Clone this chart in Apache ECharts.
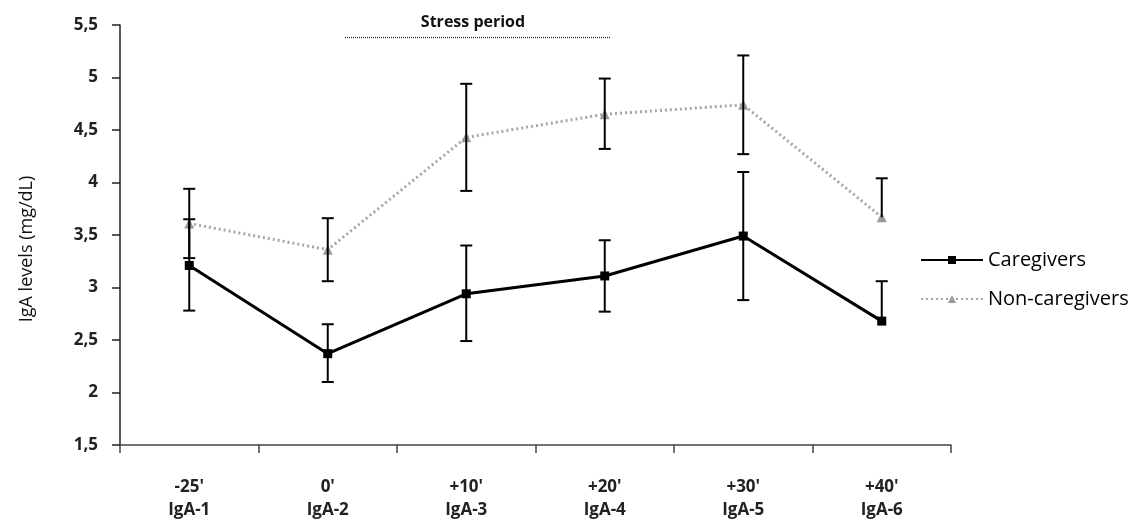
<!DOCTYPE html>
<html>
<head>
<meta charset="utf-8">
<script src="https://cdn.jsdelivr.net/npm/echarts@6/dist/echarts.min.js"></script>
<style>
html,body{margin:0;padding:0;background:#fff;}
#chart{width:1142px;height:522px;}
</style>
</head>
<body>
<div id="chart"></div>
<script>
// ---- data ----
var timeLabels = ["-25'", "0'", "+10'", "+20'", "+30'", "+40'"];
var sampleLabels = ["IgA-1", "IgA-2", "IgA-3", "IgA-4", "IgA-5", "IgA-6"];
var caregivers = [3.21, 2.37, 2.94, 3.11, 3.49, 2.68];
var caregiversErrUp = [0.44, 0.28, 0.46, 0.34, 0.61, 0.38];
var caregiversErrDown = [0.43, 0.27, 0.45, 0.34, 0.61, 0];
var nonCaregivers = [3.61, 3.36, 4.43, 4.65, 4.74, 3.67];
var nonCaregiversErrUp = [0.33, 0.30, 0.51, 0.34, 0.47, 0.37];
var nonCaregiversErrDown = [0.33, 0.30, 0.51, 0.33, 0.47, 0];
var yTicks = {min: 1.5, max: 5.5, interval: 0.5};

var categories = timeLabels.map(function (t, i) { return t + '\n' + sampleLabels[i]; });

function errData(vals, up, down) {
  return vals.map(function (v, i) { return [i, v - down[i], v + up[i]]; });
}

function renderErrGeneric(params, api, downArr) {
  var x = api.value(0);
  var lo = api.coord([x, api.value(1)]);
  var hi = api.coord([x, api.value(2)]);
  var hw = 6;
  var style = {stroke: '#000', lineWidth: 2, fill: null};
  var children = [
    {type: 'line', shape: {x1: hi[0], y1: hi[1], x2: lo[0], y2: lo[1]}, style: style},
    {type: 'line', shape: {x1: hi[0] - hw, y1: hi[1], x2: hi[0] + hw, y2: hi[1]}, style: style}
  ];
  if (downArr[params.dataIndex] !== 0) {
    children.push({type: 'line', shape: {x1: lo[0] - hw, y1: lo[1], x2: lo[0] + hw, y2: lo[1]}, style: style});
  }
  return {type: 'group', children: children};
}
function renderErrC(params, api) { return renderErrGeneric(params, api, caregiversErrDown); }
function renderErrN(params, api) { return renderErrGeneric(params, api, nonCaregiversErrDown); }

var chart = echarts.init(document.getElementById('chart'));
var fontFam = '"Open Sans", "DejaVu Sans", sans-serif';

chart.setOption({
  animation: false,
  backgroundColor: '#fff',
  grid: {left: 120, right: 191, top: 25, bottom: 75, containLabel: false},
  legend: {
    orient: 'vertical',
    left: 920,
    top: 250,
    padding: 0,
    itemWidth: 62,
    itemHeight: 10,
    itemGap: 19,
    textStyle: {fontFamily: fontFam, fontSize: 20, lineHeight: 20, color: '#000'},
    data: ['Caregivers', 'Non-caregivers']
  },
  xAxis: {
    type: 'category',
    data: categories,
    boundaryGap: true,
    axisLine: {lineStyle: {color: '#444', width: 1.5}},
    axisTick: {show: true, length: 8, lineStyle: {color: '#444', width: 1.5}},
    axisLabel: {
      margin: 31, fontFamily: fontFam, fontWeight: 'bold', fontSize: 17, color: '#222', lineHeight: 23,
      interval: 0
    },
    splitLine: {show: false}
  },
  yAxis: {
    type: 'value',
    min: yTicks.min, max: yTicks.max, interval: yTicks.interval,
    axisLine: {show: true, lineStyle: {color: '#222', width: 1.5}},
    axisTick: {show: true, length: 8, lineStyle: {color: '#222', width: 1.5}},
    axisLabel: {
      margin: 22, fontFamily: fontFam, fontWeight: 'bold', fontSize: 17, color: '#222',
      formatter: function (v) { return String(v).replace('.', ','); }
    },
    splitLine: {show: false}
  },
  graphic: [
    {type: 'text', x: 27, y: 249, rotation: Math.PI / 2,
      style: {text: 'IgA levels (mg/dL)', font: '18px ' + fontFam, fill: '#111', align: 'center', verticalAlign: 'middle'}},
    {type: 'text', x: 473, y: 22,
      style: {text: 'Stress period', font: 'bold 16px ' + fontFam, fill: '#111', align: 'center', verticalAlign: 'middle'}},
    {type: 'line', shape: {x1: 345, y1: 37.5, x2: 610, y2: 37.5}, style: {stroke: '#222', lineWidth: 1.2, lineDash: [1, 1]}}
  ],
  series: [
    {
      name: 'Non-caregivers',
      type: 'line',
      data: nonCaregivers,
      symbol: 'triangle',
      symbolSize: 10,
      itemStyle: {color: '#9a9a9a'},
      lineStyle: {color: '#a6a6a6', width: 3, type: [2, 3]},
      z: 2
    },
    {
      name: 'Caregivers',
      type: 'line',
      data: caregivers,
      symbol: 'rect',
      symbolSize: 9,
      itemStyle: {color: '#000'},
      lineStyle: {color: '#000', width: 3},
      z: 3
    },
    {
      type: 'custom',
      renderItem: renderErrN,
      data: errData(nonCaregivers, nonCaregiversErrUp, nonCaregiversErrDown),
      z: 5,
      silent: true
    },
    {
      type: 'custom',
      renderItem: renderErrC,
      data: errData(caregivers, caregiversErrUp, caregiversErrDown),
      z: 5,
      silent: true
    }
  ]
});
</script>
</body>
</html>
